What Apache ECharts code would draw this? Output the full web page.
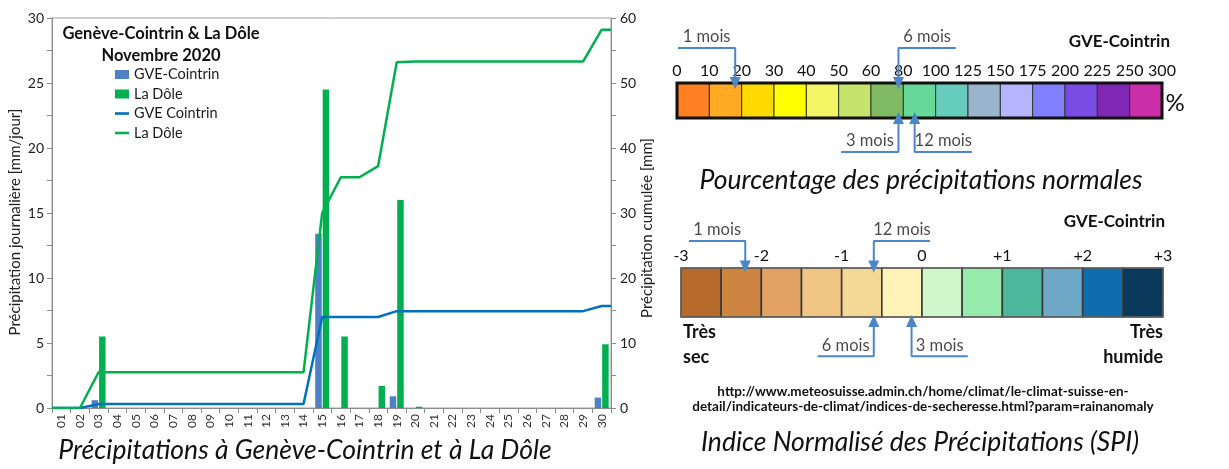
<!DOCTYPE html>
<html><head><meta charset="utf-8">
<script src="https://cdn.jsdelivr.net/npm/echarts@6/dist/echarts.min.js"></script>
<style>html,body{margin:0;padding:0;background:#fff}#c{width:1229px;height:469px}</style>
</head><body><div id="c"></div>
<script>
// ---------- data ----------
const days = ['01','02','03','04','05','06','07','08','09','10','11','12','13','14','15','16','17','18','19','20','21','22','23','24','25','26','27','28','29','30'];
const gveDaily  = [0,0,0.6,0,0,0,0,0,0,0,0,0,0,0,13.4,0,0,0,0.9,0,0,0,0,0,0,0,0,0,0,0.8];
const doleDaily = [0,0,5.5,0,0,0,0,0,0,0,0,0,0,0,24.5,5.5,0,1.7,16.0,0.1,0,0,0,0,0,0,0,0,0,4.9];
const gveCum  = [0,0,0.6,0.6,0.6,0.6,0.6,0.6,0.6,0.6,0.6,0.6,0.6,0.6,14.0,14.0,14.0,14.0,14.9,14.9,14.9,14.9,14.9,14.9,14.9,14.9,14.9,14.9,14.9,15.7];
const doleCum = [0,0,5.5,5.5,5.5,5.5,5.5,5.5,5.5,5.5,5.5,5.5,5.5,5.5,30.0,35.5,35.5,37.2,53.2,53.3,53.3,53.3,53.3,53.3,53.3,53.3,53.3,53.3,53.3,58.2];
const leftTicks = [0,5,10,15,20,25,30];
const rightTicks = [0,10,20,30,40,50,60];

const pctTicks = ['0','10','20','30','40','50','60','80','100','125','150','175','200','225','250','300'];
const pctColors = ['#FF8020','#FFAA22','#FFDA00','#FFFF00','#F4F562','#C6E46C','#80BB64','#66D998','#66CCBB','#9AB4CE','#B4B4FF','#8080FF','#7A4CE6','#8028B4','#CC2EAA'];
const pctArrowLabels = ['1 mois','6 mois','3 mois','12 mois'];
const pctArrowValues = [18, 77, 77, 87];

const spiTicks = ['-3','-2','-1','0','+1','+2','+3'];
const spiColors = ['#B5692A','#CC8440','#E1A263','#F0C483','#F3D995','#FFF3B8','#CFF7CB','#96EBAC','#4DB89B','#6FA7C7','#0D6DAE','#093A5C'];
const spiArrowLabels = ['1 mois','12 mois','6 mois','3 mois'];
const spiArrowValues = [-2.2, -0.6, -0.6, -0.13];

// ---------- helpers ----------
const FONT = 'Lato';
const pctNum = pctTicks.map(Number);
function pctToPos(v){
  for (let i=0;i<pctNum.length-1;i++){
    if (v>=pctNum[i] && v<=pctNum[i+1]) return i + (v-pctNum[i])/(pctNum[i+1]-pctNum[i]);
  }
  return pctNum.length-1;
}
function cellRender(stroke, lw){
  return function(params, api){
    const a = api.coord([api.value(0), 1]);
    const b = api.coord([api.value(1), 0]);
    return {type:'rect', shape:{x:a[0], y:a[1], width:b[0]-a[0], height:b[1]-a[1]},
      style:{fill: api.visual('color'), stroke:stroke, lineWidth:lw}};
  };
}
function frameRender(w, c){
  return function(params, api){
    const a = api.coord([api.value(0), 1]);
    const b = api.coord([api.value(1), 0]);
    return {type:'rect', shape:{x:a[0], y:a[1], width:b[0]-a[0], height:b[1]-a[1]},
      style:{fill:'none', stroke:c, lineWidth:w}};
  };
}
const ARROW = '#4A86C8';
function arrowSeries(xi, yi, pos, label, side, dir, len, yLine, yHead){
  return [{
    type:'line', xAxisIndex:xi, yAxisIndex:yi, clip:false, z:5, silent:true,
    symbol:'none', showSymbol:true, animation:false,
    lineStyle:{color:ARROW, width:2}, itemStyle:{color:ARROW},
    data:[[pos+dir*len, yLine],[pos, yLine],
      {value:[pos, yHead], symbol:'triangle', symbolSize:[11,12], symbolRotate: side==='top'?180:0}]
  },{
    type:'scatter', xAxisIndex:xi, yAxisIndex:yi, clip:false, z:6, silent:true, animation:false,
    symbolSize:1, itemStyle:{color:'rgba(0,0,0,0)'},
    label:{show:true, position:'top', distance:2, formatter:label, fontFamily:FONT, fontSize:16.5, color:'#1a1a1a'},
    data:[[pos+dir*len/2, yLine]]
  }];
}

// layout for the callouts
const pctLayout = [{side:'top',dir:-1},{side:'top',dir:1},{side:'bottom',dir:-1},{side:'bottom',dir:1}];
const spiLayout = [{side:'top',dir:-1},{side:'top',dir:1},{side:'bottom',dir:-1},{side:'bottom',dir:1}];

const series = [
  {name:'GVE-Cointrin', type:'bar', xAxisIndex:0, yAxisIndex:0, data:gveDaily, barWidth:6.5, barGap:'15%', itemStyle:{color:'#4F7FC4'}, z:2},
  {name:'La Dôle', type:'bar', xAxisIndex:0, yAxisIndex:0, data:doleDaily, barWidth:6.5, barGap:'15%', itemStyle:{color:'#00B050'}, z:2},
  {name:'GVE Cointrin', type:'line', xAxisIndex:1, yAxisIndex:1, showSymbol:false, symbol:'none', z:3,
    lineStyle:{color:'#0070C0', width:2.5}, itemStyle:{color:'#0070C0'},
    data:[[0.5,0]].concat(gveCum.map((v,i)=>[i+1,v]), [[30.5, gveCum[gveCum.length-1]]])},
  {name:'La Dôle ', type:'line', xAxisIndex:1, yAxisIndex:1, showSymbol:false, symbol:'none', z:3,
    lineStyle:{color:'#00B050', width:2.5}, itemStyle:{color:'#00B050'},
    data:[[0.5,0]].concat(doleCum.map((v,i)=>[i+1,v]), [[30.5, doleCum[doleCum.length-1]]])},
  // percentage scale
  {type:'custom', xAxisIndex:2, yAxisIndex:2, renderItem:cellRender('#333',1), z:2, silent:true,
    data:pctColors.map((c,i)=>({value:[i,i+1], itemStyle:{color:c}}))},
  {type:'custom', xAxisIndex:2, yAxisIndex:2, renderItem:frameRender(3,'#111'), z:3, silent:true,
    data:[[0, pctColors.length]]},
  // SPI scale
  {type:'custom', xAxisIndex:3, yAxisIndex:3, renderItem:cellRender('#3a3a3a',1.6), z:2, silent:true,
    data:spiColors.map((c,i)=>({value:[-3+i*0.5, -3+(i+1)*0.5], itemStyle:{color:c}}))},
  {type:'custom', xAxisIndex:3, yAxisIndex:3, renderItem:frameRender(1,'#777'), z:3, silent:true,
    data:[[-3, 3]]}
];
pctArrowValues.forEach((v,i)=>{
  const L = pctLayout[i];
  series.push(...arrowSeries(2,2,pctToPos(v),pctArrowLabels[i],L.side,L.dir,1.77,
    L.side==='top'?2.0:-0.97, L.side==='top'?1.0:0.0));
});
spiArrowValues.forEach((v,i)=>{
  const L = spiLayout[i];
  series.push(...arrowSeries(3,3,v,spiArrowLabels[i],L.side,L.dir,0.70,
    L.side==='top'?1.55:-0.8, L.side==='top'?1.03:-0.08));
});

function txt(x,y,text,font,align,fill){
  return {type:'text', x:x, y:y, silent:true,
    style:{text:text, font:font, fill:fill||'#111', align:align||'center', verticalAlign:'middle',
      textAlign:align||'center', textVerticalAlign:'middle'}};
}

const axisGray = '#8c8c8c';
const option = {
  animation:false,
  textStyle:{fontFamily:FONT},
  grid:[
    {left:52, top:18, width:559, height:390, show:true, borderColor:'#a0a0a0', borderWidth:1},
    {left:677, top:83, width:485, height:35},
    {left:681, top:268, width:482, height:49}
  ],
  legend:{
    orient:'vertical', left:115, top:67, itemWidth:14, itemHeight:9, itemGap:4.5, padding:0,
    textStyle:{fontFamily:FONT, fontSize:14.5, color:'#1a1a1a', lineHeight:14},
    data:[
      {name:'GVE-Cointrin', icon:'rect'},
      {name:'La Dôle', icon:'rect'},
      {name:'GVE Cointrin', icon:'path://M0,0h14v2.6h-14z'},
      {name:'La Dôle ', icon:'path://M0,0h14v2.6h-14z'}
    ]
  },
  xAxis:[
    {type:'category', gridIndex:0, data:days, boundaryGap:true,
      axisLine:{lineStyle:{color:axisGray}}, axisTick:{show:true, length:5, lineStyle:{color:axisGray}},
      axisLabel:{rotate:90, fontSize:12, color:'#333', margin:6, interval:0, fontFamily:FONT}},
    {type:'value', gridIndex:0, min:0.5, max:30.5, show:false},
    {type:'value', gridIndex:1, min:0, max:15, interval:1, position:'top',
      axisLine:{show:false}, axisTick:{show:false}, splitLine:{show:false},
      axisLabel:{show:true, margin:4, fontSize:16, color:'#111', fontFamily:FONT, showMinLabel:true, showMaxLabel:true,
        formatter:(v)=>pctTicks[Math.round(v)]}},
    {type:'value', gridIndex:2, min:-3, max:3, interval:1, position:'top',
      axisLine:{show:false}, axisTick:{show:false}, splitLine:{show:false},
      axisLabel:{show:true, margin:4, fontSize:16, color:'#111', fontFamily:FONT, showMinLabel:true, showMaxLabel:true,
        formatter:(v)=>spiTicks[Math.round(v+3)]}}
  ],
  yAxis:[
    {type:'value', gridIndex:0, min:0, max:30, interval:5, position:'left',
      name:'Précipitation journalière [mm/jour]', nameLocation:'middle', nameGap:29, nameRotate:90,
      nameTextStyle:{fontSize:15, color:'#222', fontFamily:FONT, padding:[0,18,0,0]},
      axisLine:{show:true, lineStyle:{color:axisGray}}, axisTick:{show:true, length:5, lineStyle:{color:axisGray}},
      minorTick:{show:true, splitNumber:2, length:5, lineStyle:{color:axisGray}},
      splitLine:{show:false},
      axisLabel:{fontSize:14, color:'#222', margin:8, fontFamily:FONT, formatter:(v)=>leftTicks.includes(v)?String(v):''}},
    {type:'value', gridIndex:0, min:0, max:60, interval:10, position:'right',
      name:'Précipitation cumulée [mm]', nameLocation:'middle', nameGap:29, nameRotate:90,
      nameTextStyle:{fontSize:15, color:'#222', fontFamily:FONT, padding:[0,30,0,0]},
      axisLine:{show:true, lineStyle:{color:axisGray}}, axisTick:{show:true, length:5, lineStyle:{color:axisGray}},
      minorTick:{show:true, splitNumber:2, length:5, lineStyle:{color:axisGray}},
      splitLine:{show:false},
      axisLabel:{fontSize:14, color:'#222', margin:9, fontFamily:FONT, formatter:(v)=>rightTicks.includes(v)?String(v):''}},
    {type:'value', gridIndex:1, min:0, max:1, show:false},
    {type:'value', gridIndex:2, min:0, max:1, show:false}
  ],
  series:series,
  graphic:[
    txt(161,34,'Genève-Cointrin & La Dôle','bold 16.5px '+FONT),
    txt(161,56,'Novembre 2020','bold 16.5px '+FONT),
    txt(305,450,'Précipitations à Genève-Cointrin et à La Dôle','italic 26.5px '+FONT),
    txt(1170,42,'GVE-Cointrin','bold 17px '+FONT,'right'),
    txt(1175,103,'%','24px '+FONT),
    txt(921,180,'Pourcentage des précipitations normales','italic 26.5px '+FONT),
    txt(1165,222,'GVE-Cointrin','bold 17px '+FONT,'right'),
    txt(683,332,'Très','bold 18px '+FONT,'left'),
    txt(683,357,'sec','bold 18px '+FONT,'left'),
    txt(1163,332,'Très','bold 18px '+FONT,'right'),
    txt(1163,357,'humide','bold 18px '+FONT,'right'),
    txt(923,392,'http://www.meteosuisse.admin.ch/home/climat/le-climat-suisse-en-','bold 13.5px '+FONT),
    txt(923,407,'detail/indicateurs-de-climat/indices-de-secheresse.html?param=rainanomaly','bold 13.5px '+FONT),
    txt(920,442,'Indice Normalisé des Précipitations (SPI)','italic 26.5px '+FONT)
  ]
};
const chart = echarts.init(document.getElementById('c'), null, {renderer:'canvas'});
chart.setOption(option);
</script>
</body></html>
